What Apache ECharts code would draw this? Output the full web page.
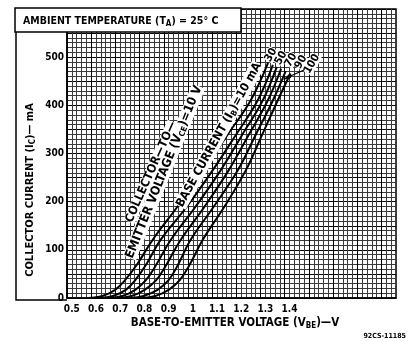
<!DOCTYPE html>
<html>
<head>
<meta charset="utf-8">
<script src="https://cdn.jsdelivr.net/npm/echarts@6/dist/echarts.min.js"></script>
<style>
html, body { margin: 0; padding: 0; background: #fff; }
#chart { width: 409px; height: 341px; }
</style>
</head>
<body>
<div id="chart"></div>
<script>
// base current labels, one per curve
var curveNames = ['10 mA', '30', '50', '70', '90', '100'];
var xTickLabels = ['0.5', '0.6', '0.7', '0.8', '0.9', '1', '1.1', '1.2', '1.3', '1.4'];
var yTickLabels = ['0', '100', '200', '300', '400', '500'];

// [VBE (V), IC (mA)]
var ib10 = [[0.568, 0], [0.626, 4], [0.679, 17], [0.720, 37], [0.770, 70], [0.833, 120], [0.937, 190], [1.044, 265], [1.141, 337], [1.239, 410], [1.311, 488]];
var ib30 = [[0.616, 0], [0.670, 4], [0.723, 17], [0.762, 37], [0.808, 70], [0.866, 120], [0.976, 190], [1.082, 265], [1.176, 337], [1.268, 410], [1.331, 484]];
var ib50 = [[0.655, 0], [0.709, 4], [0.762, 17], [0.806, 37], [0.850, 70], [0.908, 120], [1.012, 190], [1.115, 265], [1.202, 337], [1.289, 410], [1.347, 480]];
var ib70 = [[0.694, 0], [0.747, 4], [0.801, 17], [0.849, 37], [0.892, 70], [0.949, 120], [1.049, 190], [1.148, 265], [1.229, 337], [1.310, 410], [1.365, 476]];
var ib90 = [[0.743, 0], [0.796, 4], [0.854, 17], [0.900, 37], [0.940, 70], [0.990, 120], [1.087, 190], [1.186, 265], [1.258, 337], [1.331, 410], [1.384, 471]];
var ib100 = [[0.791, 0], [0.845, 4], [0.900, 17], [0.946, 37], [0.988, 70], [1.040, 120], [1.131, 190], [1.219, 265], [1.285, 337], [1.351, 410], [1.404, 466]];
var curves = [ib10, ib30, ib50, ib70, ib90, ib100];

var FONT = 'DejaVu Sans Condensed';
var SUB = { fontSize: 8, fontFamily: FONT, fontWeight: 'bold', padding: [6, 0, 0, 0] };
var chart = echarts.init(document.getElementById('chart'));

function makeSeries(data, i) {
    return {
        type: 'line',
        name: curveNames[i],
        data: data,
        smooth: 0.4,
        showSymbol: false,
        lineStyle: { color: '#000', width: 2 },
        z: 5
    };
}

// curve tag text near the top of each curve (first one is part of the long note)
function curveTag(name, x, y) {
    return {
        type: 'text', z: 22, x: x, y: y, rotation: 60 * Math.PI / 180,
        style: {
            text: name, font: 'bold 11px "' + FONT + '"', fill: '#000',
            align: 'center', verticalAlign: 'middle', backgroundColor: '#fff'
        }
    };
}

var option = {
    animation: false,
    backgroundColor: '#fff',
    grid: { left: 67, right: 13, top: 9, bottom: 43, show: true, borderColor: '#000', borderWidth: 1.5 },
    xAxis: {
        type: 'value',
        min: 0.48,
        max: 1.84,
        interval: 0.02,
        axisLine: { lineStyle: { color: '#000', width: 1.5 } },
        axisTick: { show: false },
        axisLabel: {
            interval: 0,
            color: '#000',
            fontFamily: FONT,
            fontWeight: 'bold',
            fontSize: 10,
            margin: 6,
            formatter: function (v) {
                var r = Math.round(v * 100);
                if (r % 10 !== 0) return '';
                var s = String(r / 100);
                return xTickLabels.indexOf(s) >= 0 ? s : '';
            }
        },
        splitLine: { lineStyle: { color: ['#000', '#3a3a3a', '#3a3a3a', '#3a3a3a', '#3a3a3a'], width: 1 } }
    },
    yAxis: {
        type: 'value',
        min: 0,
        max: 600,
        interval: 10,
        axisLine: { lineStyle: { color: '#000', width: 1.5 } },
        axisTick: { show: false },
        axisLabel: {
            interval: 0,
            color: '#000',
            fontFamily: FONT,
            fontWeight: 'bold',
            fontSize: 10,
            margin: 3,
            formatter: function (v) {
                var s = String(Math.round(v));
                return (Math.round(v) % 100 === 0 && yTickLabels.indexOf(s) >= 0) ? s : '';
            }
        },
        splitLine: { lineStyle: { color: ['#000', '#3a3a3a', '#3a3a3a', '#3a3a3a', '#3a3a3a'], width: 1 } }
    },
    series: curves.map(makeSeries),
    graphic: [
        {
            type: 'polyline', z: 20,
            shape: { points: [[67, 300], [16, 300], [16, 8]] },
            style: { stroke: '#000', lineWidth: 1.5, fill: null }
        },
        {
            type: 'rect', z: 20,
            shape: { x: 15, y: 8, width: 226, height: 24 },
            style: { fill: '#fff', stroke: '#000', lineWidth: 1.5 }
        },
        {
            type: 'text', z: 21, x: 23, y: 21,
            style: {
                text: 'AMBIENT TEMPERATURE (T{s|A}) = 25° C',
                rich: { s: SUB },
                font: 'bold 10.5px "' + FONT + '"', fill: '#000', align: 'left', verticalAlign: 'middle'
            }
        },
        {
            type: 'text', z: 21, x: 30, y: 190, rotation: Math.PI / 2,
            style: {
                text: 'COLLECTOR CURRENT (I{s|C})— mA',
                rich: { s: SUB },
                font: 'bold 11px "' + FONT + '"', fill: '#000', align: 'center', verticalAlign: 'middle'
            }
        },
        {
            type: 'text', z: 21, x: 235, y: 323,
            style: {
                text: 'BASE-TO-EMITTER VOLTAGE (V{s|BE})—V',
                rich: { s: SUB },
                font: 'bold 11.5px "' + FONT + '"', fill: '#000', align: 'center', verticalAlign: 'middle'
            }
        },
        {
            type: 'text', z: 21, x: 406, y: 336,
            style: { text: '92CS-11185', font: 'bold 7px "' + FONT + '"', fill: '#000', align: 'right', verticalAlign: 'middle' }
        },
        {
            type: 'text', z: 21, x: 151, y: 172, rotation: 66 * Math.PI / 180,
            style: {
                text: 'COLLECTOR—TO—', font: 'bold 12px "' + FONT + '"', fill: '#000',
                align: 'center', verticalAlign: 'middle', backgroundColor: '#fff'
            }
        },
        {
            type: 'text', z: 21, x: 164, y: 172, rotation: 68 * Math.PI / 180,
            style: {
                text: 'EMITTER VOLTAGE (V{s|CE})=10 V',
                rich: { s: SUB },
                font: 'bold 12.5px "' + FONT + '"', fill: '#000',
                align: 'center', verticalAlign: 'middle', backgroundColor: '#fff'
            }
        },
        {
            type: 'text', z: 21, x: 219, y: 135, rotation: 61 * Math.PI / 180,
            style: {
                text: 'BASE CURRENT (I{s|B})=10 mA',
                rich: { s: SUB },
                font: 'bold 12px "' + FONT + '"', fill: '#000',
                align: 'center', verticalAlign: 'middle', backgroundColor: '#fff'
            }
        },
        curveTag(curveNames[1], 271, 55),
        curveTag(curveNames[2], 281, 58),
        curveTag(curveNames[3], 291, 60),
        curveTag(curveNames[4], 301, 62),
        curveTag(curveNames[5], 312, 64),
        {
            type: 'polyline', z: 22,
            shape: { points: [[304, 70], [286, 78]] },
            style: { stroke: '#000', lineWidth: 1.2, fill: null }
        },
        {
            type: 'polygon', z: 22,
            shape: { points: [[283, 80], [290, 73], [291, 78]] },
            style: { fill: '#000' }
        }
    ]
};
chart.setOption(option);
</script>
</body>
</html>
